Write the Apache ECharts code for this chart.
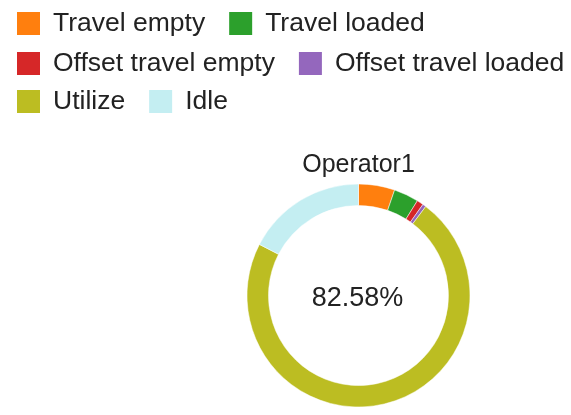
<!DOCTYPE html>
<html>
<head>
<meta charset="utf-8">
<script src="https://cdn.jsdelivr.net/npm/echarts@6/dist/echarts.min.js"></script>
<style>
  html, body { margin: 0; padding: 0; background: #ffffff; }
  #chart { width: 571px; height: 415px; }
</style>
</head>
<body>
<div id="chart"></div>
<script>
// Operator time breakdown (share of total time, %)
const operatorName = 'Operator1';
const categories = ['Travel empty', 'Travel loaded', 'Offset travel empty', 'Offset travel loaded', 'Utilize', 'Idle'];
const shares = [5.25, 3.6, 0.95, 0.5, 72.28, 17.42];
const colors = ['#ff7f0e', '#2ca02c', '#d62728', '#9467bd', '#bcbd22', '#c4eef2'];

// Busy percentage = everything except idle
const total = shares.reduce((a, b) => a + b, 0);
const idleShare = shares[categories.indexOf('Idle')];
const busyLabel = ((total - idleShare) / total * 100).toFixed(2) + '%';

const fontFamily = 'Liberation Sans, Arial, sans-serif';
const legendRows = [categories.slice(0, 2), categories.slice(2, 4), categories.slice(4, 6)];
const legendTops = [10, 50, 88];
const pieCenter = [358.5, 295.5];

const chart = echarts.init(document.getElementById('chart'), null, { renderer: 'canvas' });
chart.setOption({
  animation: false,
  color: colors,
  graphic: [
    {
      type: 'text', x: pieCenter[0], y: 165,
      style: { text: operatorName, fontFamily, fontSize: 25, fill: '#222222', textAlign: 'center', textVerticalAlign: 'middle' }
    },
    {
      type: 'text', x: pieCenter[0] - 1, y: pieCenter[1] + 3,
      style: { text: busyLabel, fontFamily, fontSize: 27, fill: '#222222', textAlign: 'center', textVerticalAlign: 'middle' }
    }
  ],
  legend: legendRows.map((row, i) => ({
    data: row,
    left: 15, top: legendTops[i],
    padding: 0,
    orient: 'horizontal',
    icon: 'rect',
    itemWidth: 25, itemHeight: 25, itemGap: 22,
    selectedMode: false,
    textStyle: { fontFamily, fontSize: 26.5, color: '#222222', padding: [0, 0, 0, 7] }
  })),
  series: [{
    type: 'pie',
    center: pieCenter,
    radius: [90, 111.5],
    startAngle: 90,
    clockwise: true,
    avoidLabelOverlap: false,
    label: { show: false },
    labelLine: { show: false },
    itemStyle: { borderColor: '#ffffff', borderWidth: 0.5 },
    data: categories.map((name, i) => ({ name, value: shares[i] }))
  }]
});
</script>
</body>
</html>
